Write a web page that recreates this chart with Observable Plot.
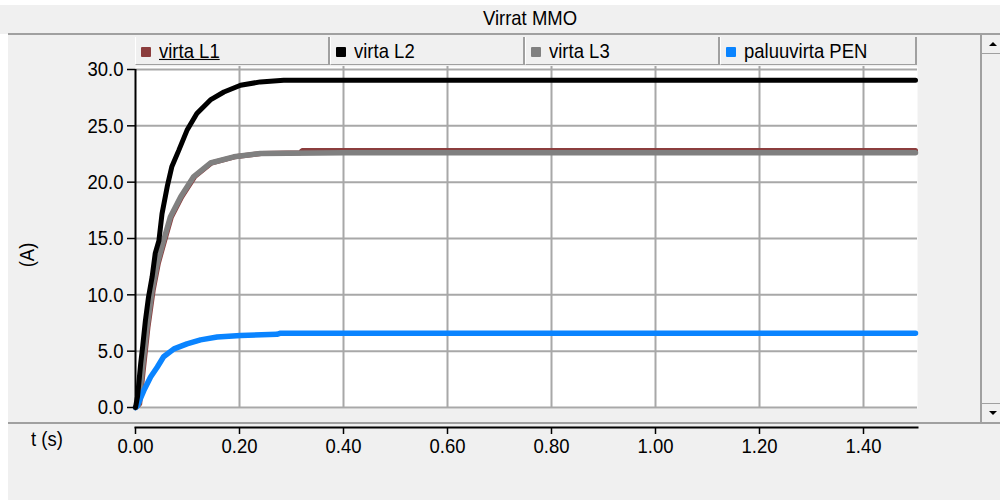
<!DOCTYPE html>
<html>
<head>
<meta charset="utf-8">
<script src="https://cdn.jsdelivr.net/npm/d3@7"></script>
<script src="https://cdn.jsdelivr.net/npm/@observablehq/plot@0.6"></script>
<style>
  html, body { margin: 0; padding: 0; background: #f0f0f0; }
  #wrap { position: relative; width: 1000px; height: 500px; background: #f0f0f0; overflow: hidden;
          font-family: "Liberation Sans", Arial, sans-serif; color: #000; }
  #wrap svg { position: absolute; left: 0; top: 0; }
  .abs { position: absolute; }
  .txt { display: inline-block; transform: scaleY(1.13); transform-origin: center; font-size: 18.5px; white-space: nowrap; }
  .btn { position: absolute; top: 37px; height: 28px; background: #f0f0f0; box-sizing: border-box;
         border-right: 2px solid #a0a0a0; border-bottom: 1px solid #a0a0a0; border-left: 1px solid #ffffff; }
  .sw { position: absolute; left: 5px; top: 10px; width: 10px; height: 10px; border-radius: 1px; }
  .lab { position: absolute; left: 23px; top: 3px; line-height: 22px; }
</style>
</head>
<body>
<div id="wrap">
  <div class="abs" style="left:0;top:0;width:1000px;height:5px;background:#fff"></div>
  <div class="abs" style="left:0;top:34px;width:8px;height:466px;background:#fff"></div>
  <div class="abs" style="left:140px;top:6px;width:780px;text-align:center;line-height:24px"><span class="txt" id="title"></span></div>
  <div class="abs" style="left:8px;top:33px;width:992px;height:2px;background:#a0a0a0"></div>
  <div class="abs" style="left:8px;top:422px;width:992px;height:2px;background:#a0a0a0"></div>
  <div id="legend"></div>
  <div class="abs" style="left:10px;top:240px;width:34px;height:30px;line-height:30px;text-align:center;transform:rotate(-90deg)"><span class="txt" id="ylab"></span></div>
  <div class="abs" style="left:17px;top:427px;width:60px;line-height:24px;text-align:center"><span class="txt" id="xlab"></span></div>
  <!-- scrollbar -->
  <div class="abs" style="left:980px;top:34px;width:20px;height:389px;border-left:2px solid #a0a0a0;box-sizing:border-box"></div>
  <div class="abs" style="left:982px;top:53px;width:18px;height:1px;background:#a0a0a0"></div>
  <div class="abs" style="left:982px;top:403px;width:18px;height:1px;background:#a0a0a0"></div>
  <div class="abs" style="left:989px;top:42px;width:0;height:0;border-left:4px solid transparent;border-right:4px solid transparent;border-bottom:4px solid #000"></div>
  <div class="abs" style="left:989px;top:411px;width:0;height:0;border-left:4px solid transparent;border-right:4px solid transparent;border-top:4px solid #000"></div>
</div>
<script>
// ---- data ----
const title = "Virrat MMO";
const yLabel = "(A)";
const xLabel = "t (s)";
const seriesNames = ["virta L1", "virta L2", "virta L3", "paluuvirta PEN"];
const seriesColors = ["#8b3d3d", "#000000", "#808080", "#0a84ff"];

const xTicks = [0, 0.2, 0.4, 0.6, 0.8, 1.0, 1.2, 1.4];
const yTicks = [0, 5, 10, 15, 20, 25, 30];

// virta L1
const tL1 = [0, 0.008, 0.015, 0.024, 0.034, 0.044, 0.056, 0.069, 0.089, 0.114, 0.146, 0.191, 0.242, 0.317, 0.320, 1.50];
const aL1 = [0, 0.3, 3.3, 7.1, 10.4, 12.8, 14.8, 16.9, 18.7, 20.5, 21.7, 22.25, 22.55, 22.6, 22.8, 22.8];
// virta L2
const tL2 = [0, 0.004, 0.010, 0.014, 0.019, 0.025, 0.032, 0.038, 0.045, 0.051, 0.061, 0.070, 0.083, 0.099, 0.118, 0.144, 0.170, 0.202, 0.240, 0.285, 0.40, 1.50];
const aL2 = [0, 1.0, 3.9, 5.5, 7.7, 9.8, 11.6, 13.7, 14.8, 17.2, 19.6, 21.4, 22.8, 24.6, 26.1, 27.3, 28.0, 28.6, 28.9, 29.05, 29.05, 29.05];
// virta L3
const tL3 = [0, 0.006, 0.013, 0.022, 0.032, 0.042, 0.054, 0.067, 0.087, 0.112, 0.144, 0.189, 0.240, 0.40, 1.50];
const aL3 = [0, 0.3, 3.3, 7.1, 10.4, 12.8, 14.8, 16.9, 18.7, 20.5, 21.7, 22.25, 22.55, 22.6, 22.6];
// paluuvirta PEN
const tPEN = [0, 0.003, 0.016, 0.029, 0.042, 0.054, 0.074, 0.099, 0.125, 0.157, 0.202, 0.272, 0.279, 1.50];
const aPEN = [0, 0.1, 1.5, 2.7, 3.6, 4.5, 5.2, 5.65, 6.0, 6.25, 6.4, 6.5, 6.6, 6.6];

// ---- build ----
const toRows = (ts, as) => ts.map((t, i) => ({t, a: as[i]}));
const L1 = toRows(tL1, aL1), L2 = toRows(tL2, aL2), L3 = toRows(tL3, aL3), PEN = toRows(tPEN, aPEN);

document.getElementById("title").textContent = title;
document.getElementById("ylab").textContent = yLabel;
document.getElementById("xlab").textContent = xLabel;

const legend = document.getElementById("legend");
const btnLefts = [135, 330, 525, 720];
const btnRights = [330, 525, 720, 917];
seriesNames.forEach((name, i) => {
  const b = document.createElement("div");
  b.className = "btn";
  b.style.left = btnLefts[i] + "px";
  b.style.width = (btnRights[i] - btnLefts[i]) + "px";
  const sw = document.createElement("div");
  sw.className = "sw";
  sw.style.background = seriesColors[i];
  const lab = document.createElement("div");
  lab.className = "lab";
  const s = document.createElement("span");
  s.className = "txt";
  s.textContent = name;
  if (i === 0) s.style.textDecoration = "underline";
  lab.appendChild(s);
  b.appendChild(sw); b.appendChild(lab);
  legend.appendChild(b);
});

const chart = Plot.plot({
  width: 1000,
  height: 460,
  marginLeft: 135,
  marginRight: 83,
  marginTop: 66,
  marginBottom: 33,
  insetTop: 3,
  insetBottom: 20,
  insetRight: 2,
  style: {background: "transparent", fontFamily: "'Liberation Sans', Arial, sans-serif", fontSize: "18.5px", color: "#000", overflow: "visible"},
  x: {domain: [0, 1.5], axis: null},
  y: {domain: [0, 30], axis: null},
  marks: [
    Plot.frame({fill: "white", stroke: null, insetBottom: 19}),
    Plot.gridY(yTicks, {stroke: "#a8a8a8", strokeOpacity: 1, strokeWidth: 2}),
    Plot.gridX(xTicks.slice(1), {stroke: "#a8a8a8", strokeOpacity: 1, strokeWidth: 2, insetBottom: 19}),
    Plot.line(L1, {x: "t", y: "a", stroke: seriesColors[0], strokeWidth: 5, strokeLinejoin: "miter"}),
    Plot.line(L3, {x: "t", y: "a", stroke: seriesColors[2], strokeWidth: 5.5, strokeLinejoin: "miter"}),
    Plot.line(PEN, {x: "t", y: "a", stroke: seriesColors[3], strokeWidth: 5.5, strokeLinejoin: "miter"}),
    Plot.line(L2, {x: "t", y: "a", stroke: seriesColors[1], strokeWidth: 5, strokeLinejoin: "miter"}),
    Plot.ruleX([0], {stroke: "#000", strokeWidth: 2, insetTop: 3, insetBottom: 20}),
    Plot.axisY(yTicks, {anchor: "left", tickSize: 8, tickPadding: 4, tickFormat: d3.format(".1f"), label: null, fontSize: 18.5, stroke: "#000", strokeWidth: 1.5}),
    Plot.frame({anchor: "bottom", stroke: "#000", strokeWidth: 2}),
    Plot.axisX(xTicks, {anchor: "bottom", tickSize: 7, tickPadding: 4, tickFormat: d3.format(".2f"), label: null, fontSize: 18.5, stroke: "#000", strokeWidth: 1.5})
  ]
});
document.getElementById("wrap").appendChild(chart);

// stretch tick labels vertically to match the reference's tall glyphs
chart.querySelectorAll("text").forEach(t => {
  const tr = t.getAttribute("transform") || "";
  t.setAttribute("transform", tr + " scale(1,1.13)");
});
</script>
</body>
</html>
